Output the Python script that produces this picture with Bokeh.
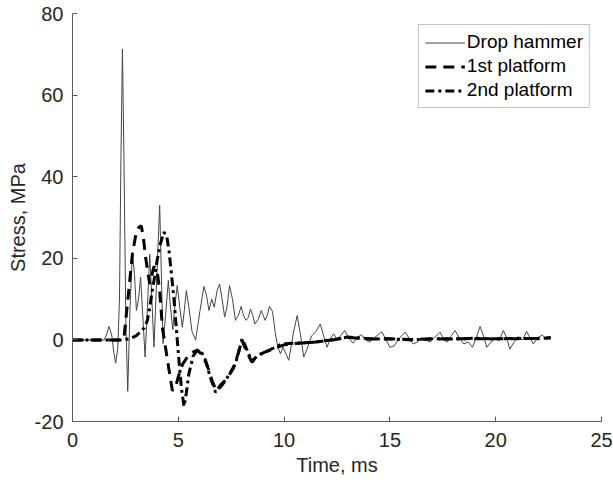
from bokeh.plotting import figure
from bokeh.models import Range1d, FixedTicker, Legend, LegendItem
from bokeh.embed import file_html
from bokeh.resources import INLINE

# ---- data ----
drop_time = [
    0.0, 1.5, 1.62, 1.73, 1.86, 1.95, 2.04, 2.14, 2.22, 2.29,
    2.36, 2.43, 2.52, 2.61,
    2.72, 2.83, 2.93, 3.02, 3.12, 3.22, 3.32, 3.43, 3.54, 3.65,
    3.75, 3.85, 3.98, 4.12, 4.2, 4.28, 4.4, 4.53, 4.63, 4.74,
    4.85, 4.95,
    5.07, 5.19, 5.28, 5.38, 5.5, 5.65, 5.82, 6.02, 6.21, 6.33,
    6.45, 6.58, 6.7, 6.83, 6.95, 7.07, 7.19, 7.3, 7.42, 7.56,
    7.7, 7.84, 7.97, 8.08, 8.2, 8.31, 8.41, 8.52, 8.62, 8.77,
    8.92, 9.01, 9.1, 9.2, 9.31, 9.45, 9.59, 9.71, 9.83,
    9.95, 10.22, 10.45, 10.62, 10.78, 10.93, 11.1, 11.3, 11.5, 11.71,
    11.87, 12.03, 12.2, 12.35, 12.5, 12.67, 12.86, 13.05, 13.25, 13.45,
    13.65, 13.85, 14.05, 14.25, 14.43, 14.62, 14.82, 15.0, 15.2, 15.38,
    15.55, 15.72, 15.9, 16.1, 16.3, 16.5, 16.7, 16.9, 17.1, 17.37,
    17.55, 17.72, 17.9, 18.08, 18.28, 18.5, 18.7, 18.9, 19.08, 19.26,
    19.42, 19.58, 19.78, 19.98, 20.17, 20.36, 20.52, 20.67, 20.87, 21.07,
    21.27, 21.46, 21.62, 21.78, 21.98, 22.2, 22.4, 22.56,
]
drop_stress = [
    0, 0, 1.5, 3.3, 1.0, -3.0, -5.7, -2.0, 10, 45,
    71.3, 45, 5, -12.6,
    8, 21.5, 16, 7.2, 10, 15.4, 6, -4.2, 8, 21,
    10, -1.8, 15, 33, 16, -0.9, 6, 14.6, 8, 2.5,
    9, 13.3,
    8, 3.1, 7, 12.1, 8, 2, 0, 7, 13.1, 11,
    7.2, 10, 8, 12, 13.7, 10, 5.6, 8, 13.3, 10,
    4.8, 6, 8.2, 6, 4.8, 5.5, 7.6, 6, 3.9, 5,
    7.2, 6, 4.8, 6, 8.2, 7, 1.5, -2, -3.4,
    -1.8, -5, 2, 6, 1, -4.2, -2, 1, 2, 3.9,
    1, -1.8, 0.5, 1.5, 0, 1, 2.3, 0.5, -0.8, 0.5,
    1.3, 0, -0.5, 0.5, 1.2, 2.0, 0, -1.8, -1.5, 0,
    1, 1.9, 0.5, -1.0, -0.5, 0.5, 0, -0.5, 0.5, 1.9,
    0, -0.5, 1, 2.3, 0.5, -1, -0.5, -1.8, 0.5, 3.3,
    1, -1.8, -0.5, 0.3, 0, 2.3, 0.5, -2.3, -0.5, 0.5,
    0, 2.1, 0.5, -1.0, 0.5, 1.2, 0.2, 0.5,
]

p1_time = [
    0, 2.3, 2.44, 2.6, 2.83, 3.0, 3.12, 3.25, 3.35, 3.46,
    3.65, 3.85, 4.0, 4.12, 4.25, 4.4, 4.55, 4.72, 4.85, 5.0,
    5.2, 5.45, 5.7, 5.9, 6.1, 6.35, 6.6, 6.8, 7.0, 7.3,
    7.6, 7.85, 8.0, 8.2, 8.45, 8.7, 9.0, 9.5, 10.0, 10.7,
    11.5, 12.3, 13.0, 14, 15, 16, 17, 18, 19, 20,
    21, 22, 22.6,
]
p1_stress = [
    0, 0, 1, 9, 21, 26, 27.5, 28, 25, 20,
    13.7, 18, 17, 12, 3, -2, -7, -12.4, -12, -9,
    -6, -4, -3, -2.5, -3.5, -6, -10, -12.5, -11, -9.5,
    -7, -3, 0, -2.5, -5.2, -4.2, -3.2, -2.2, -1.2, -0.8,
    -0.5, 0, 0.6, 0.2, 0.3, 0.1, 0.2, 0.3, 0.3, 0.3,
    0.3, 0.4, 0.5,
]

p2_time = [
    0, 2.4, 2.7, 3.0, 3.2, 3.4, 3.54, 3.65, 3.77, 3.9,
    4.0, 4.15, 4.32, 4.45, 4.56, 4.68, 4.8, 4.92, 5.03, 5.15,
    5.27, 5.38, 5.5, 5.7, 5.9, 6.1, 6.29, 6.5, 6.76, 7.0,
    7.23, 7.45, 7.7, 7.85, 8.02, 8.25, 8.49, 8.7, 8.9, 9.3,
    9.9, 10.5, 11.4, 12.2, 13.0, 14, 15, 16, 17, 18,
    19, 20, 21, 22, 22.6,
]
p2_stress = [
    0, 0, 0.3, 1.0, 1.9, 3.0, 4.8, 8, 12.1, 16,
    19.5, 23.5, 26.4, 25.5, 21.9, 16, 9.7, 2, -5, -12,
    -16.3, -13, -8.3, -4, -2.5, -3, -5, -9, -12.8, -11.5,
    -10, -8, -5.9, -3, 0.3, -2.5, -5.5, -4, -3.4, -2.5,
    -1, -0.8, -0.6, 0, 0.7, 0.3, 0.2, 0.0, 0.3, 0.2,
    0.4, 0.2, 0.4, 0.3, 0.5,
]

x_ticks = [0, 5, 10, 15, 20, 25]
y_ticks = [-20, 0, 20, 40, 60, 80]
series_names = ["Drop hammer", "1st platform", "2nd platform"]

FONT = "Liberation Sans"
TXT = "#262626"

p = figure(frame_width=529, frame_height=408, output_backend="svg",
           toolbar_location=None,
           x_range=Range1d(0, 25), y_range=Range1d(-20, 80),
           min_border_left=72, min_border_right=12, min_border_top=13,
           min_border_bottom=60)
p.outline_line_color = None
p.grid.visible = False
p.background_fill_color = "white"

r0 = p.line(drop_time, drop_stress, line_color="#454545", line_width=1,
            line_join="round")
r1 = p.line(p1_time, p1_stress, line_color="black", line_width=3,
            line_dash="11 7")
r2 = p.line(p2_time, p2_stress, line_color="black", line_width=3,
            line_dash="9 4 3 4")

for ax, ticks in ((p.xaxis[0], x_ticks), (p.yaxis[0], y_ticks)):
    ax.ticker = FixedTicker(ticks=ticks)
    ax.major_label_overrides = {t: str(t) for t in ticks}
    ax.major_tick_in = 5
    ax.major_tick_out = 0
    ax.minor_tick_in = 0
    ax.minor_tick_out = 0
    ax.axis_line_color = "#5a5a5a"
    ax.major_tick_line_color = "#5a5a5a"
    ax.major_label_text_font = FONT
    ax.major_label_text_font_size = "20px"
    ax.major_label_text_color = TXT
    ax.axis_label_text_font = FONT
    ax.axis_label_text_font_size = "20px"
    ax.axis_label_text_font_style = "normal"
    ax.axis_label_text_color = TXT

p.xaxis.axis_label = "Time, ms"
p.yaxis.axis_label = "Stress, MPa"
p.xaxis.major_label_standoff = 11
p.yaxis.major_label_standoff = 9
p.xaxis.axis_label_standoff = 4
p.yaxis.axis_label_standoff = 3

legend = Legend(items=[LegendItem(label=series_names[0], renderers=[r0]),
                       LegendItem(label=series_names[1], renderers=[r1]),
                       LegendItem(label=series_names[2], renderers=[r2])],
                location="top_right")
legend.label_text_font = FONT
legend.label_text_font_size = "19px"
legend.label_text_color = "black"
legend.border_line_color = "#888888"
legend.border_line_width = 1
legend.background_fill_alpha = 1
legend.glyph_width = 40
legend.glyph_height = 21
legend.label_height = 21
legend.label_standoff = 2
legend.spacing = 2
legend.padding = 6
legend.margin = 11
p.add_layout(legend)

open("out.html", "w").write(file_html(p, INLINE))
